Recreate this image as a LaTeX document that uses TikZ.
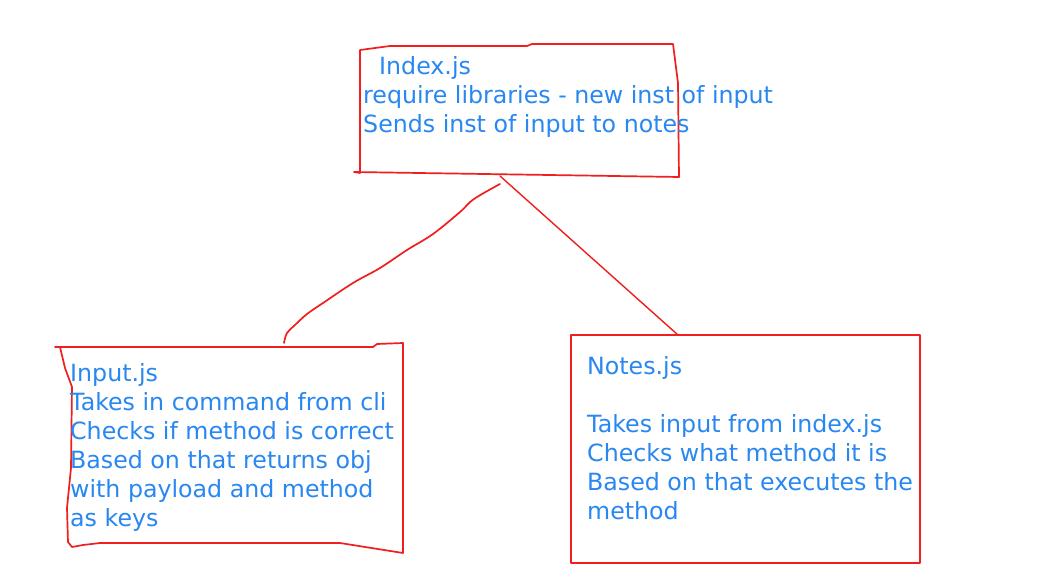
\documentclass[tikz,border=0pt]{standalone}
\usepackage{fontspec}
\setmainfont{DejaVu Sans}
\definecolor{inkred}{RGB}{240,30,30}
\definecolor{inkblue}{RGB}{40,135,240}
\begin{document}
\begin{tikzpicture}[x=1pt,y=-1pt,
  pen/.style={draw=inkred,line width=1.7pt,line join=round,line cap=round},
  txt/.style={anchor=base west,inner sep=0pt,text=inkblue,font=\fontsize{23.7}{29}\selectfont}]
\useasboundingbox (0,0) rectangle (1044,585);
\fill[white] (0,0) rectangle (1044,585);
% Index box
\draw[pen] (354,172) -- (360,173) -- (360,50) -- (390,46) -- (527,46) -- (532,44) -- (673,44) -- (678,83) -- (679,177) -- cycle;
\coordinate (idxB) at (500,176);
\coordinate (idxB2) at (500,184);
\node[txt] (i1) at (379,75) {Index.js};
\node[txt] (i2) at (363,104) {require libraries - new inst of input};
\node[txt] (i3) at (363,133) {Sends inst of input to notes};
% Input box
\draw[pen] (55,347) -- (373,347) -- (377,344) -- (403,343) -- (403,553) -- (340,543) -- (100,543) -- (83,545) -- (72,547) -- (68,542) -- (67,508) -- (71,468) -- (72,387) -- (65,368) -- (60,347);
\coordinate (inpT) at (284,343);
\node[txt] (n1) at (70,381) {Input.js};
\node[txt] (n2) at (70,410) {Takes in command from cli};
\node[txt] (n3) at (70,439) {Checks if method is correct};
\node[txt] (n4) at (70,468) {Based on that returns obj};
\node[txt] (n5) at (70,497) {with payload and method};
\node[txt] (n6) at (70,526) {as keys};
% Notes box
\draw[pen,line cap=butt] (571,335) rectangle (920,563);
\coordinate (notT) at (678,335);
\node[txt] (m1) at (587,374) {Notes.js};
\node[txt] (m2) at (587,432) {Takes input from index.js};
\node[txt] (m3) at (587,461) {Checks what method it is};
\node[txt] (m4) at (587,490) {Based on that executes the};
\node[txt] (m5) at (587,519) {method};
% connectors
\draw[pen,line width=1.4pt] (idxB) -- (notT);
\draw[pen] plot[smooth,tension=0.6] coordinates {(500,184) (474,199) (460,212) (433,234) (407,250) (380,268) (353,283) (323,303) (307,314) (295,325) (287,333) (284,343)};
\end{tikzpicture}
\end{document}
